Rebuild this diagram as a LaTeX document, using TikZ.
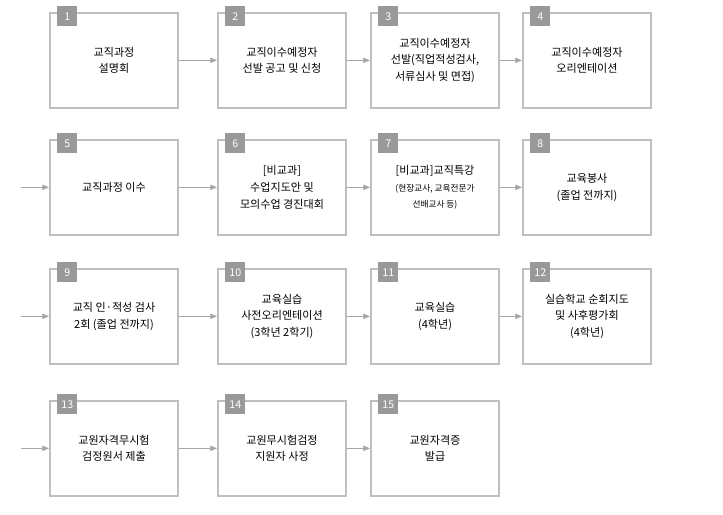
\documentclass[tikz,border=0pt]{standalone}
\usepackage{fontspec}
\setmainfont{Noto Sans CJK KR}
\usetikzlibrary{arrows.meta}
\newcommand\smtxt[1]{{\fontsize{6.5}{10}\selectfont #1}}
\begin{document}
\begin{tikzpicture}[x=0.75pt,y=-0.75pt,
  stepbox/.style={draw=black!25,line width=1.5pt,minimum width=96pt,minimum height=71pt,inner sep=0pt,align=center,font=\fontsize{8.3}{12.5}\selectfont,anchor=north west},
  tab/.style={fill=black!40,text=white,minimum width=15pt,minimum height=15pt,inner sep=0pt,font=\fontsize{8}{9}\selectfont,anchor=north west},
  conn/.style={draw=black!35,line width=0.6pt,-{Triangle[length=5pt,width=4pt]}}]
\useasboundingbox (0,0) rectangle (723,514);
\def\cx{{49,217,370,522}}
\def\ry{{12,139,268,400}}
\newcommand\stepnode[5]{%
  \pgfmathsetmacro\xx{\cx[#2]}\pgfmathsetmacro\yy{\ry[#3]}
  \node[stepbox] (b#1) at (\xx,\yy) {#5};
  \node[tab] (t#1) at (\xx+8,\yy-6) {#4};}
\stepnode{1}{0}{0}{1}{교직과정\\설명회}
\stepnode{2}{1}{0}{2}{교직이수예정자\\선발 공고 및 신청}
\stepnode{3}{2}{0}{3}{교직이수예정자\\선발(직업적성검사,\\서류심사 및 면접)}
\stepnode{4}{3}{0}{4}{교직이수예정자\\오리엔테이션}
\stepnode{5}{0}{1}{5}{교직과정 이수}
\stepnode{6}{1}{1}{6}{[비교과]\\수업지도안 및\\모의수업 경진대회}
\stepnode{7}{2}{1}{7}{[비교과]교직특강\\\smtxt{(현장교사, 교육전문가}\\\smtxt{선배교사 등)}}
\stepnode{8}{3}{1}{8}{교육봉사\\(졸업 전까지)}
\stepnode{9}{0}{2}{9}{교직 인·적성 검사\\2회 (졸업 전까지)}
\stepnode{10}{1}{2}{10}{교육실습\\사전오리엔테이션\\(3학년 2학기)}
\stepnode{11}{2}{2}{11}{교육실습\\(4학년)}
\stepnode{12}{3}{2}{12}{실습학교 순회지도\\및 사후평가회\\(4학년)}
\stepnode{13}{0}{3}{13}{교원자격무시험\\검정원서 제출}
\stepnode{14}{1}{3}{14}{교원무시험검정\\지원자 사정}
\stepnode{15}{2}{3}{15}{교원자격증\\발급}
\foreach \a in {1,5,9,13}{
  \pgfmathtruncatemacro\b{\a+1}\pgfmathtruncatemacro\c{\a+2}\pgfmathtruncatemacro\d{\a+3}
  \draw[conn] (b\a.east) -- (b\b.west);
  \draw[conn] (b\b.east) -- (b\c.west);
  \ifnum\a<13 \draw[conn] (b\c.east) -- (b\d.west);\fi
}
\foreach \a in {5,9,13}{
  \coordinate (s\a) at ([xshift=-21pt]b\a.west);
  \draw[conn] (s\a) -- (b\a.west);
}
\end{tikzpicture}
\end{document}
